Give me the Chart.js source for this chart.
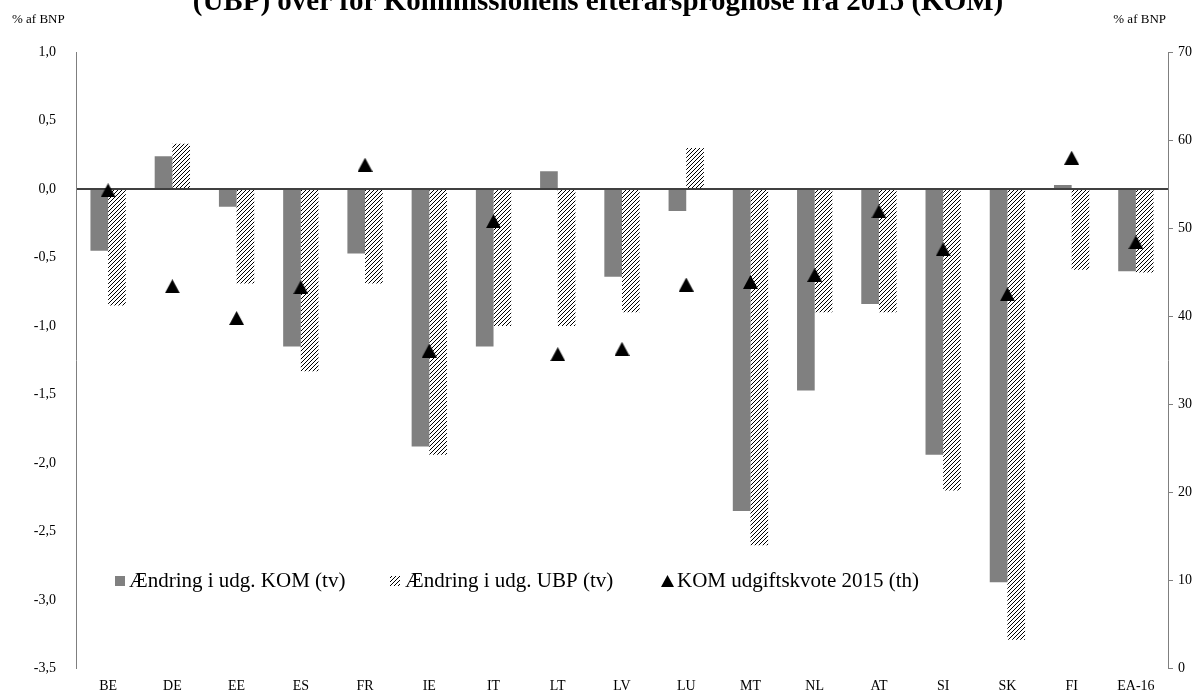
<!DOCTYPE html>
<html>
<head>
<meta charset="utf-8">
<script src="https://cdn.jsdelivr.net/npm/chart.js@4.4.1/dist/chart.umd.min.js"></script>
<style>
  html, body { margin: 0; padding: 0; background: #fff; }
  #c { display: block; }
</style>
</head>
<body>
<canvas id="c" width="1200" height="697"></canvas>
<script>
const categories = ['BE','DE','EE','ES','FR','IE','IT','LT','LV','LU','MT','NL','AT','SI','SK','FI','EA-16'];
const komChange = [-0.45, 0.24, -0.13, -1.15, -0.47, -1.88, -1.15, 0.13, -0.64, -0.16, -2.35, -1.47, -0.84, -1.94, -2.87, 0.03, -0.60];
const ubpChange = [-0.85, 0.33, -0.69, -1.33, -0.69, -1.94, -1.00, -1.00, -0.90, 0.30, -2.60, -0.90, -0.90, -2.20, -3.29, -0.59, -0.61];
const komRatio2015 = [54.3, 43.4, 39.8, 43.3, 57.2, 36.1, 50.8, 35.7, 36.3, 43.6, 43.9, 44.7, 51.9, 47.6, 42.5, 58.0, 48.4];
const seriesNames = ['Ændring i udg. KOM (tv)', 'Ændring i udg. UBP (tv)', 'KOM udgiftskvote 2015 (th)'];
const titleText = '(UBP) over for Kommissionens efterårsprognose fra 2015 (KOM)';
const axisUnit = '% af BNP';

const SERIF = '"Liberation Serif", "Times New Roman", serif';

// hatch pattern
function makeHatch() {
  const p = document.createElement('canvas');
  p.width = 4; p.height = 4;
  const g = p.getContext('2d');
  g.fillStyle = '#fff'; g.fillRect(0,0,4,4);
  g.fillStyle = '#000';
  for (let i = 0; i < 4; i++) g.fillRect(i, 3 - i, 1, 1);
  return g.createPattern(p, 'repeat');
}
// triangle marker (bbox-centered)
function makeTriangle(w, h) {
  const t = document.createElement('canvas');
  t.width = w; t.height = h;
  const g = t.getContext('2d');
  g.fillStyle = '#000';
  g.beginPath();
  g.moveTo(w/2, 0); g.lineTo(w, h); g.lineTo(0, h); g.closePath(); g.fill();
  return t;
}

const ctx = document.getElementById('c').getContext('2d');
const hatch = makeHatch();
const tri = makeTriangle(15, 14);

const extras = {
  id: 'extras',
  afterDraw(chart) {
    const c = chart.ctx;
    c.save();
    // title (cut off at top)
    c.fillStyle = '#000';
    c.font = 'bold 29px ' + SERIF;
    c.textAlign = 'center';
    c.textBaseline = 'alphabetic';
    c.fillText(titleText, 598, 10);
    // unit labels
    c.font = '13px ' + SERIF;
    c.textBaseline = 'middle';
    c.textAlign = 'left';
    c.fillText(axisUnit, 12, 20);
    c.textAlign = 'right';
    c.fillText(axisUnit, 1166, 20);
    // legend
    const ly = 581;
    c.font = '21px ' + SERIF;
    c.textAlign = 'left';
    c.fillStyle = '#808080';
    c.fillRect(115, ly - 5, 10, 10);
    c.fillStyle = '#000';
    c.fillText(seriesNames[0], 129, ly);
    c.fillStyle = hatch;
    c.fillRect(390, ly - 5, 10, 10);
    c.fillStyle = '#000';
    c.fillText(seriesNames[1], 405, ly);
    c.drawImage(makeTriangle(13, 12), 661, ly - 6);
    c.fillText(seriesNames[2], 677, ly);
    c.restore();
  }
};

new Chart(ctx, {
  data: {
    labels: categories,
    datasets: [
      {
        type: 'line',
        label: seriesNames[2],
        data: komRatio2015,
        yAxisID: 'y2',
        showLine: false,
        pointStyle: tri,
        pointRadius: 7,
        pointHoverRadius: 7,
        order: 0
      },
      {
        type: 'bar',
        label: seriesNames[0],
        data: komChange,
        yAxisID: 'y',
        backgroundColor: '#808080',
        borderWidth: 0,
        barPercentage: 1,
        categoryPercentage: 0.55,
        order: 1
      },
      {
        type: 'bar',
        label: seriesNames[1],
        data: ubpChange,
        yAxisID: 'y',
        backgroundColor: hatch,
        borderWidth: 0,
        barPercentage: 1,
        categoryPercentage: 0.55,
        order: 1
      }
    ]
  },
  options: {
    responsive: false,
    animation: false,
    devicePixelRatio: 1,
    layout: { padding: { top: 52, left: 0, right: 0, bottom: 0 } },
    plugins: {
      legend: { display: false },
      title: { display: false },
      tooltip: { enabled: false }
    },
    scales: {
      x: {
        offset: true,
        grid: { display: false, drawTicks: false },
        border: { display: false },
        ticks: { color: '#000', font: { family: SERIF, size: 14 }, padding: 9, maxRotation: 0, autoSkip: false },
        afterFit(s) { s.height = 26; }
      },
      y: {
        position: 'left',
        min: -3.5, max: 1.0,
        ticks: {
          stepSize: 0.5, color: '#000', padding: 20,
          font: { family: SERIF, size: 14 },
          callback: v => v.toFixed(1).replace('.', ',')
        },
        grid: {
          drawTicks: false,
          color: c => (c.tick && Math.abs(c.tick.value) < 1e-9) ? '#404040' : 'rgba(0,0,0,0)',
          lineWidth: c => (c.tick && Math.abs(c.tick.value) < 1e-9) ? 2 : 0
        },
        border: { display: true, color: '#7f7f7f', width: 1 },
        afterFit(s) { s.width = 76; }
      },
      y2: {
        position: 'right',
        min: 0, max: 70,
        ticks: {
          stepSize: 10, color: '#000', padding: 5,
          font: { family: SERIF, size: 14 }
        },
        grid: { drawOnChartArea: false, drawTicks: true, tickLength: 5, color: '#7f7f7f' },
        border: { display: true, color: '#7f7f7f', width: 1 },
        afterFit(s) { s.width = 32; }
      }
    }
  },
  plugins: [extras]
});
</script>
</body>
</html>
